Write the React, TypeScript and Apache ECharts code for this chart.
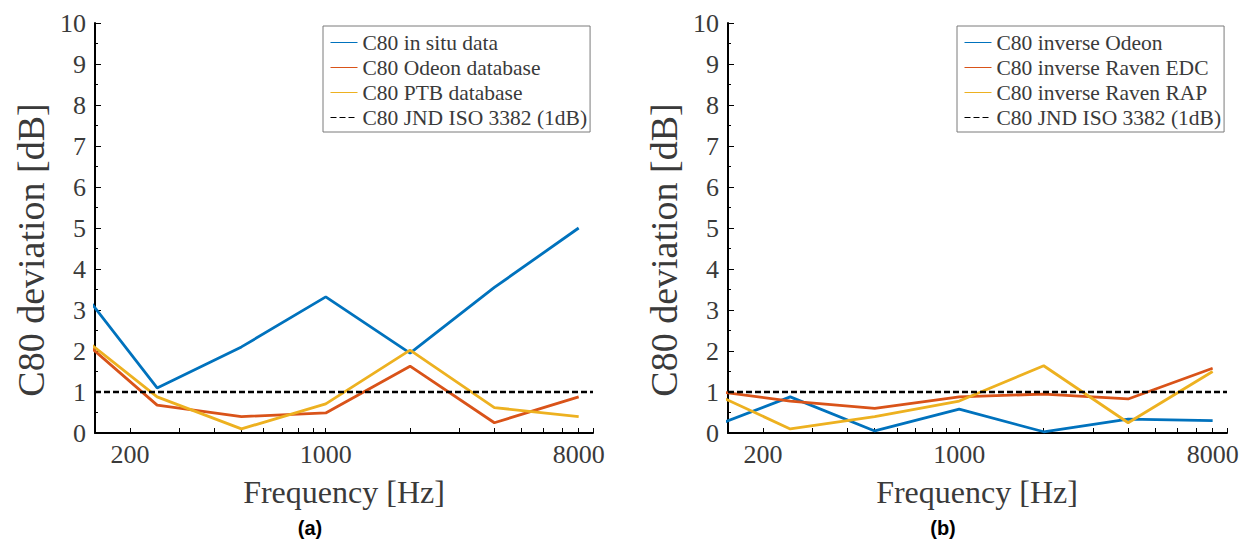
import React, { useEffect, useRef } from "react";
import * as echarts from "echarts";

// Octave-band centre frequencies (Hz)
const freqs = [125, 250, 500, 1000, 2000, 4000, 8000];
// Panel (a)
const aInSitu = [3.75, 1.1, 2.1, 3.32, 1.95, 3.55, 5.0];
const aOdeon = [2.47, 0.68, 0.4, 0.49, 1.63, 0.25, 0.88];
const aPtb = [2.51, 0.88, 0.1, 0.71, 2.02, 0.62, 0.4];
// Panel (b)
const bOdeon = [0.09, 0.88, 0.05, 0.58, 0.03, 0.34, 0.3];
const bRavenEdc = [1.05, 0.78, 0.6, 0.88, 0.95, 0.83, 1.58];
const bRavenRap = [1.05, 0.1, 0.4, 0.78, 1.64, 0.25, 1.5];
// JND reference
const jndFreqs = [150, 9000];
const jndValue = [1, 1];
// Axis
const xRange = [150, 9000];
const xTickLabels = [200, 1000, 8000];
const xMinorTicks = [200, 300, 400, 500, 600, 700, 800, 900, 1000, 2000, 3000, 4000, 5000, 6000, 7000, 8000, 9000];
const yTicks = [0, 10];

const namesA = ["C80 in situ data", "C80 Odeon database", "C80 PTB database", "C80 JND ISO 3382 (1dB)"];
const namesB = ["C80 inverse Odeon", "C80 inverse Raven EDC", "C80 inverse Raven RAP", "C80 JND ISO 3382 (1dB)"];
const xTitle = "Frequency [Hz]";
const yTitle = "C80 deviation [dB]";

const COLORS = ["#0072BD", "#D95319", "#EDB120"];
const SERIF = "Liberation Serif";
const TXT = "#3a3a3a";

const lg = (v: number) => Math.log10(v);
const toXY = (fs: number[], vs: number[]) => fs.map((f, i) => [lg(f), vs[i]]);

export default function App() {
  const ref = useRef<HTMLDivElement>(null);
  useEffect(() => {
    if (!ref.current) return;
    const chart = echarts.init(ref.current, undefined, { renderer: "svg" });

    const grids = [
      { left: 95, top: 23, width: 498, height: 410 },
      { left: 728, top: 23, width: 499, height: 410 },
    ];

    const xAxisFor = (gi: number) => ({
      type: "value",
      gridIndex: gi,
      min: lg(xRange[0]),
      max: lg(xRange[1]),
      axisLine: { show: true, onZero: false, lineStyle: { color: "#000", width: 2 } },
      axisTick: {
        show: true,
        inside: true,
        length: 5,
        customValues: xMinorTicks.map(lg),
        lineStyle: { color: "#000", width: 1 },
      },
      axisLabel: {
        show: true,
        customValues: xTickLabels.map(lg),
        formatter: (v: number) => String(Math.round(Math.pow(10, v))),
        fontFamily: SERIF,
        fontSize: 26,
        color: TXT,
        margin: 8,
      },
      splitLine: { show: false },
    });

    const yAxisFor = (gi: number) => ({
      type: "value",
      gridIndex: gi,
      min: yTicks[0],
      max: yTicks[1],
      interval: 1,
      axisLine: { show: true, lineStyle: { color: "#000", width: 2 } },
      axisTick: { show: true, inside: true, length: 6, lineStyle: { color: "#000", width: 1 } },
      minorTick: { show: true, splitNumber: 2, length: 3, lineStyle: { color: "#000", width: 1 } },
      axisLabel: { fontFamily: SERIF, fontSize: 26, color: TXT, margin: 9 },
      splitLine: { show: false },
      minorSplitLine: { show: false },
    });

    const lineSeries = (name: string, gi: number, vs: number[], color: string) => ({
      type: "line",
      name,
      xAxisIndex: gi,
      yAxisIndex: gi,
      data: toXY(freqs, vs),
      symbol: "none",
      clip: true,
      lineStyle: { color, width: 2.8 },
      itemStyle: { color },
      z: 3,
    });
    const jndSeries = (gi: number) => ({
      type: "line",
      name: "C80 JND ISO 3382 (1dB)",
      xAxisIndex: gi,
      yAxisIndex: gi,
      data: toXY(jndFreqs, jndValue),
      symbol: "none",
      lineStyle: { color: "#000", width: 2.5, type: [6, 3] },
      itemStyle: { color: "#000" },
      z: 4,
    });

    const legendFor = (left: number, names: string[]) => ({
      show: true,
      orient: "vertical",
      left,
      top: 26,
      data: names,
      selectedMode: false,
      itemWidth: 27,
      itemHeight: 14,
      itemGap: 0,
      padding: [4, 3, 2, 7],
      borderColor: "#7a7a7a",
      borderWidth: 1,
      backgroundColor: "#fff",
      itemStyle: { opacity: 0 },
      lineStyle: { width: 1 },
      textStyle: { fontFamily: SERIF, fontSize: 21.5, color: TXT, lineHeight: 25 },
    });

    const titleText = (x: number, y: number, text: string, size: number, rot: number) => ({
      type: "text",
      x,
      y,
      rotation: rot,
      style: {
        text,
        fontFamily: SERIF,
        fontSize: size,
        fill: TXT,
        align: "center",
        verticalAlign: "middle",
      },
    });
    const panelLabel = (x: number, text: string) => ({
      type: "text",
      x,
      y: 528,
      style: {
        text,
        fontFamily: "Liberation Sans",
        fontWeight: "bold",
        fontSize: 20,
        fill: "#000",
        align: "center",
        verticalAlign: "middle",
      },
    });

    chart.setOption({
      animation: false,
      backgroundColor: "#fff",
      grid: grids,
      xAxis: [xAxisFor(0), xAxisFor(1)],
      yAxis: [yAxisFor(0), yAxisFor(1)],
      legend: [legendFor(323, namesA), legendFor(957, namesB)],
      series: [
        lineSeries(namesA[0], 0, aInSitu, COLORS[0]),
        lineSeries(namesA[1], 0, aOdeon, COLORS[1]),
        lineSeries(namesA[2], 0, aPtb, COLORS[2]),
        jndSeries(0),
        lineSeries(namesB[0], 1, bOdeon, COLORS[0]),
        lineSeries(namesB[1], 1, bRavenEdc, COLORS[1]),
        lineSeries(namesB[2], 1, bRavenRap, COLORS[2]),
        jndSeries(1),
      ],
      graphic: [
        titleText(344, 492, xTitle, 32, 0),
        titleText(977, 492, xTitle, 32, 0),
        titleText(31, 250, yTitle, 38, Math.PI / 2),
        titleText(664, 250, yTitle, 38, Math.PI / 2),
        panelLabel(310, "(a)"),
        panelLabel(943, "(b)"),
      ],
    });
    return () => chart.dispose();
  }, []);

  return <div ref={ref} style={{ width: 1248, height: 544, position: "absolute", left: 0, top: 0 }} />;
}
